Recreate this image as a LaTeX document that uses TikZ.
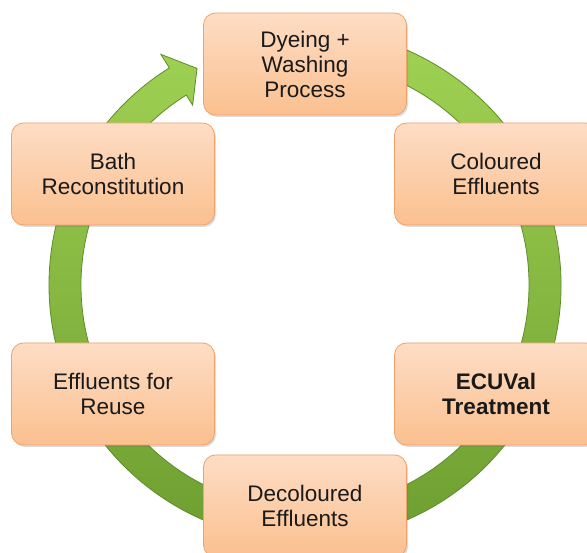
\documentclass[tikz,border=0pt]{standalone}
\usepackage{fontspec}
\setmainfont{Liberation Sans}
\usetikzlibrary{shadows}
\definecolor{ringtop}{HTML}{A2D555}
\definecolor{ringbot}{HTML}{6B9C2F}
\definecolor{ringedge}{HTML}{5F8C2A}
\definecolor{boxtop}{HTML}{FDDDC5}
\definecolor{boxbot}{HTML}{FBC08F}
\definecolor{boxedge}{HTML}{EFA36A}
\definecolor{txt}{HTML}{1A1A1A}
\tikzset{
 stagebox/.style={rectangle, rounded corners=12pt, minimum width=203pt, minimum height=102pt,
   draw=boxedge, line width=0.8pt, top color=boxtop, bottom color=boxbot, align=center,
   text=txt, font=\fontsize{22.5}{25}\selectfont,
   drop shadow={opacity=0.22, shadow xshift=1.5pt, shadow yshift=-2pt, fill=black!60}},
 ringarrow/.style={top color=ringtop, bottom color=ringbot, draw=ringedge, line width=0.8pt}
}
\begin{document}
\begin{tikzpicture}[x=1pt,y=1pt]
\useasboundingbox (0,0) rectangle (587,553);
\clip (0,0) rectangle (587,553);
\fill[white] (0,0) rectangle (587,553);
\begin{scope}[shift={(305,268)}]
\path[ringarrow] (100:256) arc[start angle=100, end angle=-238, radius=256]
  -- (-238:272) -- (-243.5:242) -- (-238:212) -- (-238:224)
  arc[start angle=-238, end angle=100, radius=224] -- cycle;
\end{scope}
\node[stagebox] (dye) at (305,489) {Dyeing +\\Washing\\Process};
\node[stagebox] (col) at (496,379) {Coloured\\Effluents};
\node[stagebox] (ecu) at (496,159) {\bfseries ECUVal\\\bfseries Treatment};
\node[stagebox] (dec) at (305,47) {Decoloured\\Effluents};
\node[stagebox] (reu) at (113,159) {Effluents for\\Reuse};
\node[stagebox] (bat) at (113,379) {Bath\\Reconstitution};
\end{tikzpicture}
\end{document}
